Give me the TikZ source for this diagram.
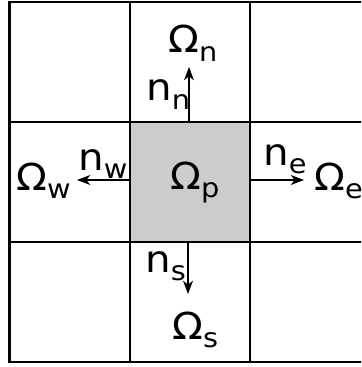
\documentclass[tikz,border=0pt]{standalone}
\usepackage{fontspec}
\setmainfont{DejaVu Sans}
\usetikzlibrary{arrows.meta}
% subscript set a bit lower and smaller than the letter
\newcommand{\cvsub}[1]{\raisebox{-0.24em}{\fontsize{20}{20}\selectfont #1}}
\begin{document}
\begin{tikzpicture}[x=0.75pt, y=-0.75pt,
  lbl/.style={inner sep=0pt, anchor=base west, xscale=1.08, font=\fontsize{28}{28}\selectfont},
  nrm/.style={line width=0.8pt, -{Stealth[length=10pt, width=7.5pt, inset=3pt]}}]
\def\gridlw{1.6pt}
\useasboundingbox (0,0) rectangle (361,367);
\begin{scope}
  \clip (0,0) rectangle (361,367);
  % Control volume P
  \fill[black!20] (130,122) rectangle (250,242);
  % Grid lines
  \begin{scope}[draw=black, line width=\gridlw, line cap=rect]
    \draw (9.5,2) -- (9.5,362);
    \draw (130,2) -- (130,362);
    \draw (250,2) -- (250,362);
    \draw (370,2) -- (370,362);
    \draw (9.5,2) -- (370,2);
    \draw (9.5,122) -- (370,122);
    \draw (9.5,242) -- (370,242);
    \draw (9.5,362) -- (370,362);
  \end{scope}
  % Face points and arrow tips
  \coordinate (fn) at (189,122);
  \coordinate (fs) at (188,242);
  \coordinate (fw) at (130,180);
  \coordinate (fe) at (250,180);
  \coordinate (tn) at (189,67);
  \coordinate (ts) at (188,294);
  \coordinate (tw) at (77,180);
  \coordinate (te) at (304,180);
  % Labels
  \node[lbl] (omp) at (170,189) {Ω\cvsub{p}};
  \node[lbl] (omn) at (168,53) {Ω\cvsub{n}};
  \node[lbl] (oms) at (172,339) {Ω\cvsub{s}};
  \node[lbl] (omw) at (16,190) {Ω\cvsub{w}};
  \node[lbl] (ome) at (314,190) {Ω\cvsub{e}};
  \node[lbl] (nn) at (146,101) {n\cvsub{n}};
  \node[lbl] (ns) at (145,272) {n\cvsub{s}};
  \node[lbl] (nw) at (78,170) {n\cvsub{w}};
  \node[lbl] (ne) at (263,165) {n\cvsub{e}};
  % Outward normals
  \draw[nrm] (fn) -- (tn);
  \draw[nrm] (fs) -- (ts);
  \draw[nrm] (fw) -- (tw);
  \draw[nrm] (fe) -- (te);
\end{scope}
\end{tikzpicture}
\end{document}
